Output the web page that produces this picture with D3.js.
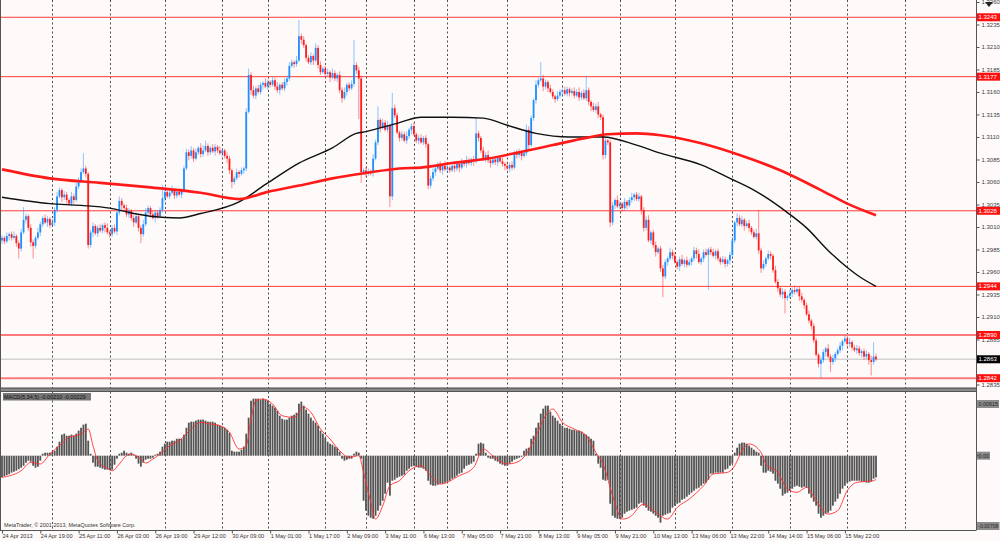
<!DOCTYPE html>
<html>
<head>
<meta charset="utf-8">
<script src="https://cdn.jsdelivr.net/npm/d3@7"></script>
<style>
html, body { margin: 0; padding: 0; background: #fffafa; }
svg { display: block; }
</style>
</head>
<body>
<div id="chart"></div>
<script>
// EURUSD H1, price in pips (1.2998 -> 12998). open of each bar = previous close
const firstOpen = 12995;
const closes = [
12998,12994,13000,13002,12998,13000,12992,12986,13004,13018,13022,13009,12993,12989,12998,13004,13013,13020,13015,13019,
13012,13015,13029,13044,13051,13043,13046,13040,13036,13044,13040,13055,13062,13071,13075,13069,12990,13004,13011,13003,
13009,13006,13012,13009,13004,13002,13009,13005,13026,13039,13034,13031,13024,13028,13020,13015,13022,13009,13002,13013,
13026,13031,13024,13020,13026,13022,13029,13042,13049,13044,13048,13051,13045,13049,13046,13051,13075,13093,13089,13095,
13086,13093,13098,13091,13095,13100,13093,13098,13094,13099,13095,13092,13095,13089,13086,13073,13060,13064,13071,13069,
13073,13075,13138,13179,13162,13156,13164,13160,13168,13170,13166,13171,13168,13173,13166,13162,13168,13164,13171,13175,
13189,13193,13191,13195,13222,13218,13212,13198,13193,13200,13195,13209,13190,13182,13186,13180,13182,13176,13181,13175,
13179,13162,13153,13160,13168,13164,13169,13190,13184,13175,13071,13073,13069,13072,13070,13086,13104,13129,13120,13126,
13118,13123,13044,13142,13134,13115,13109,13113,13106,13111,13118,13122,13113,13106,13109,13104,13109,13102,13056,13064,
13071,13075,13079,13073,13078,13074,13076,13073,13078,13075,13080,13076,13082,13080,13084,13081,13085,13083,13114,13109,
13095,13086,13090,13084,13081,13085,13082,13087,13083,13080,13078,13075,13079,13076,13093,13090,13093,13089,13092,13118,
13101,13131,13151,13168,13173,13175,13166,13171,13164,13160,13155,13152,13156,13160,13162,13158,13163,13159,13161,13156,
13160,13154,13159,13153,13162,13149,13144,13140,13144,13135,13132,13090,13106,13104,13015,13034,13040,13033,13036,13031,
13038,13034,13040,13043,13046,13041,13044,13029,13009,13018,12995,13004,12990,12982,12986,12964,12955,12971,12975,12982,
12978,12971,12966,12974,12969,12973,12968,12971,12975,12984,12980,12971,12975,12982,12979,12985,12982,12978,12983,12975,
12971,12974,12969,12973,12979,12995,13015,13020,13013,13018,13011,13014,13009,13004,12999,13003,12984,12964,12969,12975,
12980,12978,12962,12949,12942,12935,12938,12931,12933,12936,12940,12938,12941,12933,12929,12923,12913,12906,12900,12884,
12868,12858,12862,12871,12875,12866,12860,12864,12869,12873,12878,12883,12886,12880,12882,12876,12873,12875,12870,12872,
12866,12869,12862,12860,12866,12863
];
// wick length above the body / below the body, in pips
const upperWick = [
3,2,4,2,3,5,2,3,4,14,3,2,4,3,2,5,3,2,4,3,
2,4,3,5,3,2,4,3,2,5,3,4,3,4,17,3,2,3,4,2,
3,4,2,3,5,2,3,4,2,5,3,2,4,3,2,3,4,2,3,5,
5,3,2,4,3,2,3,15,4,2,3,5,2,3,4,2,3,4,3,5,
3,4,2,5,6,6,3,2,4,3,2,5,3,2,4,3,2,3,4,2,
3,2,4,7,3,5,2,4,3,2,5,3,2,4,3,5,2,3,4,3,
4,3,2,5,18,3,4,2,3,4,2,5,3,4,2,3,4,2,5,3,
2,4,3,5,2,3,4,28,3,4,3,2,4,3,2,5,3,15,2,4,
3,5,2,17,4,3,2,4,3,5,2,3,4,2,3,4,2,3,2,3,
4,2,3,4,2,5,3,2,4,3,2,3,4,2,5,3,2,4,17,3,
2,4,3,5,2,3,4,2,3,4,2,5,3,4,2,3,4,2,3,6,
4,3,2,5,3,18,4,3,2,4,3,2,5,3,2,4,3,2,3,4,
3,5,2,4,16,3,2,4,3,5,2,3,4,2,3,4,2,5,3,2,
4,2,3,5,2,3,4,2,3,4,5,2,3,4,2,3,4,3,2,5,
3,4,2,3,5,2,4,3,2,4,3,5,2,3,4,2,3,4,2,3,
2,4,3,2,3,4,2,5,3,4,2,3,4,2,3,5,26,3,4,2,
4,3,2,5,3,2,4,3,2,4,3,5,2,3,4,2,3,4,2,3,
3,2,4,3,2,5,3,4,2,3,4,2,4,3,5,2,3,4,3,2,
3,4,2,5,16,3
];
const lowerWick = [
4,3,2,5,3,2,4,11,3,2,4,3,5,14,3,2,4,3,2,5,
3,2,4,3,2,5,3,4,2,3,4,2,3,3,2,4,4,3,5,2,
4,2,3,5,2,4,3,2,4,3,5,2,3,4,3,5,2,4,10,3,
2,3,4,2,5,3,2,3,4,2,3,2,4,3,2,4,3,2,5,3,
4,2,3,4,3,2,4,3,2,5,3,2,4,3,5,4,7,3,2,4,
2,4,3,2,5,3,4,2,3,5,2,4,3,2,4,3,5,2,3,4,
3,2,4,3,2,5,3,4,2,3,5,2,4,3,2,4,3,5,2,3,
4,3,5,2,4,3,2,3,4,45,12,3,4,2,3,4,2,3,5,2,
2,3,12,4,3,2,4,3,2,4,3,5,2,3,4,2,3,4,4,3,
3,4,2,3,5,2,4,3,2,4,3,5,2,3,4,2,3,5,2,4,
3,2,4,3,5,2,3,4,2,3,5,2,4,3,2,4,3,5,2,3,
5,2,3,4,3,2,5,3,4,2,3,4,2,3,5,2,3,4,2,3,
2,4,3,2,3,4,5,2,3,4,3,5,4,3,5,3,4,2,3,4,
3,4,2,3,4,2,3,5,4,3,2,4,3,5,2,4,23,3,4,2,
4,2,3,5,2,4,3,2,4,3,5,2,3,4,2,39,3,2,4,3,
3,2,4,3,5,2,3,4,2,3,5,2,4,3,2,3,4,5,2,3,
2,4,3,2,4,3,5,17,3,2,4,3,2,5,3,4,2,3,4,3,
2,4,16,3,5,2,11,3,4,2,3,5,2,3,4,3,2,4,3,5,
4,3,5,15,3,2
];

// moving averages, read at sample bars
const redMaBars = [0,20,41,62,83,99,111,124,138,152,166,175,188,203,216,230,244,253,265,275,292,308,325,342,353,365];
const redMaValues = [1.3074,1.3064,1.3059,1.3054,1.3048,1.3041,1.3049,1.3056,1.3064,1.3070,1.3075,1.3076,1.3081,1.3086,1.3093,1.3101,1.3109,1.3113,1.3114,1.3112,1.3103,1.3090,1.3073,1.3051,1.3036,1.3023];
const blackMaBars = [0,20,33,45,55,62,74,83,99,111,124,138,148,152,166,175,188,201,211,223,237,251,265,275,292,304,314,328,336,345,353,358,365];
const blackMaValues = [1.3043,1.3036,1.3034,1.3031,1.3025,1.3022,1.3020,1.3025,1.3038,1.3059,1.3081,1.3098,1.3114,1.3116,1.3126,1.3132,1.3132,1.3131,1.3123,1.3114,1.3110,1.3110,1.3101,1.3092,1.3079,1.3064,1.3051,1.3026,1.3009,1.2984,1.2965,1.2955,1.2944];

// MACD(5,34,5) histogram, in 0.00001
const macdMain = [
-210,-198,-188,-179,-164,-155,-145,-130,-116,-97,-68,-48,-58,-97,-116,-106,-48,19,29,29,
29,39,48,87,135,203,213,193,193,203,193,213,242,270,300,309,145,19,-68,-106,
-106,-116,-126,-135,-135,-140,-135,-87,-29,19,29,48,29,19,29,10,-29,-77,-106,-68,
-39,-29,-29,-19,10,19,39,87,116,135,135,145,145,164,164,164,203,270,319,328,
328,338,348,348,348,338,328,328,328,319,300,290,280,270,251,222,48,39,39,39,
58,87,213,367,531,551,551,551,541,551,541,531,502,483,464,435,386,357,348,348,
367,386,396,415,502,522,483,444,406,367,338,319,290,242,213,174,135,116,106,87,
77,39,-29,-48,-39,-29,-29,19,39,29,-29,-435,-531,-580,-599,-609,-580,-531,-483,-435,
-367,-261,-386,-242,-232,-213,-203,-193,-184,-145,-126,-106,-97,-106,-116,-116,-126,-145,-242,-280,
-290,-290,-280,-270,-270,-261,-251,-242,-222,-213,-193,-174,-164,-126,-97,-87,-77,-58,19,116,
126,116,29,-19,-29,-29,-48,-58,-77,-87,-97,-97,-77,-58,-39,-29,-19,-10,48,68,
77,164,193,270,319,406,454,483,483,425,386,367,338,309,290,270,270,261,251,251,
242,242,232,213,203,184,164,145,19,-77,-116,-232,-242,-232,-464,-580,-599,-609,-609,-599,
-560,-541,-531,-522,-512,-502,-464,-454,-483,-502,-531,-541,-560,-580,-599,-647,-580,-570,-560,-551,
-502,-483,-464,-454,-425,-415,-396,-377,-357,-338,-319,-309,-290,-270,-261,-232,-174,-174,-164,-164,
-164,-164,-135,-126,-97,-77,29,77,116,126,126,116,97,77,58,39,29,-97,-164,-164,
-145,-155,-174,-242,-270,-319,-386,-367,-357,-338,-319,-300,-290,-300,-309,-300,-309,-367,-406,-444,
-483,-560,-599,-580,-560,-551,-531,-483,-444,-415,-367,-319,-290,-261,-251,-242,-242,-242,-242,-251,
-251,-261,-261,-251,-222,-210
];
const signalBars = [0,8,12,16,20,24,28,33,36,38,40,44,46,49,52,54,58,60,63,66,70,74,79,83,87,91,95,99,102,104,106,109,113,117,122,126,129,133,137,141,145,149,151,154,156,159,162,166,170,175,179,183,191,197,201,205,211,215,219,223,228,230,234,239,244,248,251,255,259,262,268,272,278,282,287,293,297,303,305,310,312,317,319,324,328,332,336,340,345,349,353,357,364,365];
const signalValues = [-209,-145,-64,-80,16,97,177,209,258,97,-48,-122,-145,-80,0,16,-32,-71,-32,16,97,145,258,322,306,290,225,64,97,354,531,547,499,386,370,467,419,258,161,48,-16,0,-161,-451,-612,-483,-290,-241,-145,-97,-193,-274,-193,-113,64,0,-80,-64,16,193,419,451,322,258,193,32,-80,-386,-612,-596,-467,-531,-612,-499,-419,-290,-177,-161,-129,80,113,32,-80,-161,-322,-354,-306,-435,-564,-531,-338,-258,-241,-229];

const timeLabels = ["24 Apr 2013","24 Apr 19:00","25 Apr 11:00","26 Apr 03:00","26 Apr 19:00","29 Apr 12:00","30 Apr 09:00","1 May 01:00","1 May 17:00","2 May 09:00","3 May 11:00","6 May 13:00","7 May 05:00","7 May 21:00","8 May 13:00","9 May 05:00","9 May 21:00","10 May 13:00","13 May 06:00","13 May 22:00","14 May 14:00","15 May 06:00","15 May 22:00"];
const dayStartBars = [21,45,68,92,111,135,152,172,186,211,234,258,281,305,329,353,377];
const priceTicks = [1.3260,1.3235,1.3210,1.3185,1.3160,1.3135,1.3110,1.3085,1.3060,1.3035,1.3010,1.2985,1.2960,1.2935,1.2910,1.2885,1.2860,1.2835];
const levelLines = [1.3243,1.3177,1.3028,1.2944,1.2890,1.2842];
const levelWide = [false,false,false,false,true,true];
const lastPrice = 1.2863;
const macdRange = [-0.00708, 0.00615];

const bars = closes.map(function(c, i) {
    const o = i === 0 ? firstOpen : closes[i - 1];
    return {
        i: i,
        o: o / 10000,
        c: c / 10000,
        h: (Math.max(o, c) + upperWick[i]) / 10000,
        l: (Math.min(o, c) - lowerWick[i]) / 10000,
        m: macdMain[i] / 100000
    };
});

const svg = d3.select("#chart").append("svg")
    .attr("width", 1000)
    .attr("height", 541);
svg.append("rect").attr("width", 1000).attr("height", 541).attr("fill", "#fffafa");

const x = d3.scaleLinear().domain([0, closes.length - 1]).range([2, 876]);
const y = d3.scaleLinear().domain([1.28311, 1.32622]).range([388, 0]);
const ym = d3.scaleLinear().domain(macdRange).range([529, 392]);

const FONT = "'Liberation Sans', Arial, sans-serif";

const defs = svg.append("defs");
defs.append("clipPath").attr("id", "mainClip").append("rect")
    .attr("x", 0).attr("y", 0).attr("width", 976).attr("height", 388);
defs.append("clipPath").attr("id", "macdClip").append("rect")
    .attr("x", 0).attr("y", 392).attr("width", 976).attr("height", 137);

// day separators
svg.append("g").selectAll("line")
    .data(dayStartBars)
    .enter()
    .append("line")
        .attr("x1", d => Math.round(x(d)) + 0.5)
        .attr("x2", d => Math.round(x(d)) + 0.5)
        .attr("y1", 0)
        .attr("y2", 530)
        .attr("stroke", "#3a3a3a")
        .attr("stroke-width", 0.9)
        .attr("stroke-dasharray", "2,2.5");

const main = svg.append("g").attr("clip-path", "url(#mainClip)");

main.append("line")
    .attr("x1", 0).attr("x2", 976)
    .attr("y1", y(lastPrice)).attr("y2", y(lastPrice))
    .attr("stroke", "#d2d2d2")
    .attr("stroke-width", 1.6);

main.selectAll(".level")
    .data(levelLines)
    .enter()
    .append("line")
        .attr("class", "level")
        .attr("x1", 0).attr("x2", 976)
        .attr("y1", d => y(d)).attr("y2", d => y(d))
        .attr("stroke", (d, i) => levelWide[i] ? "#ff7a7a" : "#ff3b3b")
        .attr("stroke-width", (d, i) => levelWide[i] ? 2 : 1);

// candles
main.selectAll(".wick")
    .data(bars)
    .enter()
    .append("line")
        .attr("class", "wick")
        .attr("x1", d => x(d.i)).attr("x2", d => x(d.i))
        .attr("y1", d => y(d.h)).attr("y2", d => y(d.l))
        .attr("stroke", d => d.c >= d.o ? "#1e90ff" : "#ff1e1e")
        .attr("stroke-opacity", 0.5)
        .attr("stroke-width", 1);

main.selectAll(".body")
    .data(bars)
    .enter()
    .append("rect")
        .attr("class", "body")
        .attr("x", d => x(d.i) - 0.9)
        .attr("width", 1.8)
        .attr("y", d => y(Math.max(d.o, d.c)))
        .attr("height", d => Math.max(1, Math.abs(y(d.o) - y(d.c))))
        .attr("fill", d => d.c >= d.o ? "#1e90ff" : "#ff1e1e");

const maLine = function(idx, vals) {
    return d3.line()
        .x(d => x(d))
        .y((d, k) => y(vals[k]))
        .curve(d3.curveMonotoneX)(idx);
};
main.append("path")
    .attr("d", maLine(blackMaBars, blackMaValues))
    .attr("fill", "none")
    .attr("stroke", "#111")
    .attr("stroke-width", 1.4);
main.append("path")
    .attr("d", maLine(redMaBars, redMaValues))
    .attr("fill", "none")
    .attr("stroke", "#ff1a1a")
    .attr("stroke-width", 2.6);

// MACD pane
const macd = svg.append("g").attr("clip-path", "url(#macdClip)");
macd.selectAll("rect")
    .data(bars)
    .enter()
    .append("rect")
        .attr("x", d => x(d.i) - 0.9)
        .attr("width", 1.8)
        .attr("y", d => Math.min(ym(d.m), ym(0)))
        .attr("height", d => Math.max(0.5, Math.abs(ym(d.m) - ym(0))))
        .attr("fill", "#545454");
macd.append("path")
    .attr("d", d3.line()
        .x(d => x(d))
        .y((d, k) => ym(signalValues[k] / 100000))
        .curve(d3.curveMonotoneX)(signalBars))
    .attr("fill", "none")
    .attr("stroke", "#ff3030")
    .attr("stroke-width", 0.9);

// frames
svg.append("rect").attr("x", 0).attr("y", 388).attr("width", 976).attr("height", 3.5).attr("fill", "#8a8a8a");
svg.append("line").attr("x1", 0).attr("x2", 976).attr("y1", 388).attr("y2", 388).attr("stroke", "#444");
svg.append("line").attr("x1", 0).attr("x2", 976).attr("y1", 391.5).attr("y2", 391.5).attr("stroke", "#555");
svg.append("line").attr("x1", 0.5).attr("x2", 0.5).attr("y1", 0).attr("y2", 530).attr("stroke", "#555");

// price axis
const priceAxis = svg.append("g")
    .attr("transform", "translate(976.5,0)")
    .call(d3.axisRight(y).tickValues(priceTicks).tickSize(3).tickPadding(2).tickFormat(d3.format(".4f")));
priceAxis.select(".domain").attr("stroke", "#555").attr("d", "M0,0V530");
priceAxis.selectAll("line").attr("stroke", "#555");
priceAxis.selectAll("text").attr("font-family", FONT).attr("font-size", 6).attr("fill", "#3c3c3c");
// the last price tag hides the label under it
priceAxis.selectAll(".tick").filter(d => Math.abs(d - lastPrice) < 0.0004).select("text").remove();

// time axis
const timeAxis = svg.append("g")
    .attr("transform", "translate(0,530.5)")
    .call(d3.axisBottom(x)
        .tickValues(timeLabels.map((t, k) => k * 16))
        .tickSize(3)
        .tickPadding(1)
        .tickFormat((d, k) => timeLabels[k]));
timeAxis.select(".domain").attr("stroke", "#555").attr("d", "M0,0H976.5");
timeAxis.selectAll("line").attr("stroke", "#555");
timeAxis.selectAll("text")
    .attr("text-anchor", "start")
    .attr("font-family", FONT)
    .attr("font-size", 5.6)
    .attr("fill", "#333");

// tags on the price scale
const tag = function(yPos, text, fill, color, w, fs) {
    svg.append("rect")
        .attr("x", 977).attr("y", yPos - 4)
        .attr("width", w).attr("height", 8)
        .attr("fill", fill);
    svg.append("text")
        .attr("x", 978.5).attr("y", yPos)
        .attr("dy", "0.35em")
        .attr("font-family", FONT).attr("font-size", fs || 6)
        .attr("fill", color)
        .text(text);
};
levelLines.forEach(function(v) { tag(y(v), d3.format(".4f")(v), "#ff1010", "#fff", 23); });
tag(y(lastPrice), d3.format(".4f")(lastPrice), "#000", "#fff", 23);
tag(ym(macdRange[1]) + 12, "0.00615", "#8c8c8c", "#222", 22, 5.4);
tag(ym(0), "0.00", "#8c8c8c", "#222", 13, 5.4);
tag(ym(macdRange[0]) - 3, "-0.00708", "#8c8c8c", "#222", 22.5, 5);
svg.append("line").attr("x1", 976).attr("x2", 979).attr("y1", ym(0)).attr("y2", ym(0)).attr("stroke", "#555");

// indicator caption and copyright
svg.append("rect").attr("x", 3).attr("y", 393).attr("width", 88).attr("height", 7.5).attr("fill", "#767676");
svg.append("text")
    .attr("x", 4).attr("y", 397)
    .attr("dy", "0.35em")
    .attr("font-family", FONT).attr("font-size", 5.5)
    .attr("fill", "#111")
    .text("MACD(5,34,5) -0.00210 -0.00229");
svg.append("text")
    .attr("x", 4).attr("y", 525.5)
    .attr("dy", "0.35em")
    .attr("font-family", FONT).attr("font-size", 5.4)
    .attr("fill", "#333")
    .text("MetaTrader, \u00a9 2001-2013, MetaQuotes Software Corp.");

// chart shift marker
svg.append("path")
    .attr("d", d3.line()([[985, 2], [993, 2], [989, 7]]) + "Z")
    .attr("fill", "#222");
</script>
</body>
</html>
